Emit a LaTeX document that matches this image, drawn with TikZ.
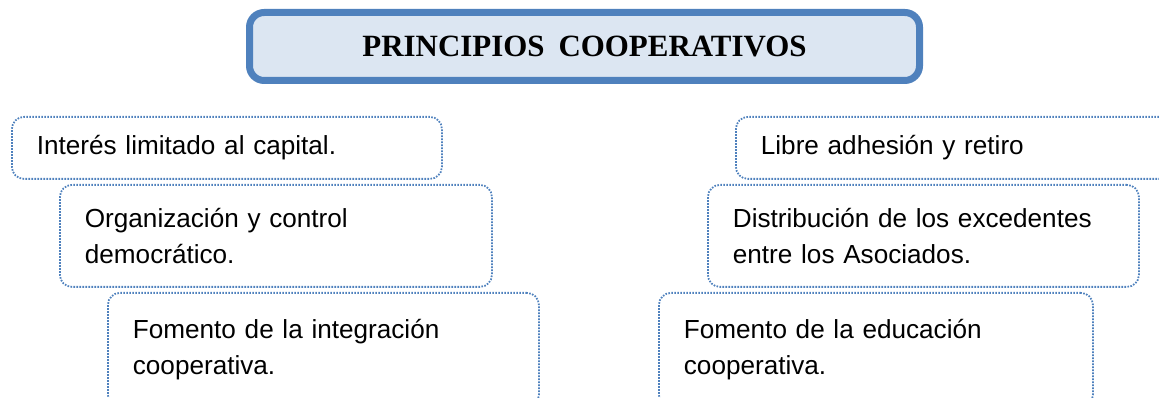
\documentclass[tikz,border=0pt]{standalone}
\usepackage{fontspec}
\setmainfont{Liberation Sans}
\newfontfamily\titlefont{Liberation Serif}
\definecolor{bordo}{HTML}{4F81BD}
\definecolor{fillo}{HTML}{DCE6F2}
\begin{document}
\begin{tikzpicture}[x=0.75pt,y=-0.75pt,
  pbox/.style={draw=bordo, line width=1.35pt, dash pattern=on 1.2pt off 1.05pt,
    rounded corners=9pt, anchor=north west, align=left,
    inner xsep=18.75pt, inner ysep=0pt,
    font=\fontsize{19.6}{27}\selectfont},
  titlebox/.style={draw=bordo, fill=fillo, line width=5.25pt, rounded corners=11pt,
    minimum width=502.5pt, minimum height=51pt, inner sep=0pt,
    font=\titlefont\bfseries\fontsize{23.2}{27}\selectfont}]
\clip (0,0) rectangle (1159,398);
\node[titlebox] (title) at (584.5,46.5) {PRINCIPIOS\hspace{0.45em}COOPERATIVOS};
% left column
\node[pbox, text width=285pt, minimum height=46.5pt] (interes) at (11,116)
  {Interés limitado al capital.};
\node[pbox, text width=286.5pt, minimum height=76.5pt] (organiz) at (59,184)
  {Organización y control\\democrático.};
\node[pbox, text width=285.75pt, minimum height=85.5pt] (integra) at (107,292)
  {Fomento de la integración\\cooperativa.};
% right column
\node[pbox, text width=288.75pt, minimum height=46.5pt] (libre) at (735,116)
  {Libre adhesión y retiro};
\node[pbox, text width=285.75pt, minimum height=76.5pt] (distrib) at (707,184)
  {Distribución de los excedentes\\entre los Asociados.};
\node[pbox, text width=288pt, minimum height=85.5pt] (educa) at (658,292)
  {Fomento de la educación\\cooperativa.};
\end{tikzpicture}
\end{document}
